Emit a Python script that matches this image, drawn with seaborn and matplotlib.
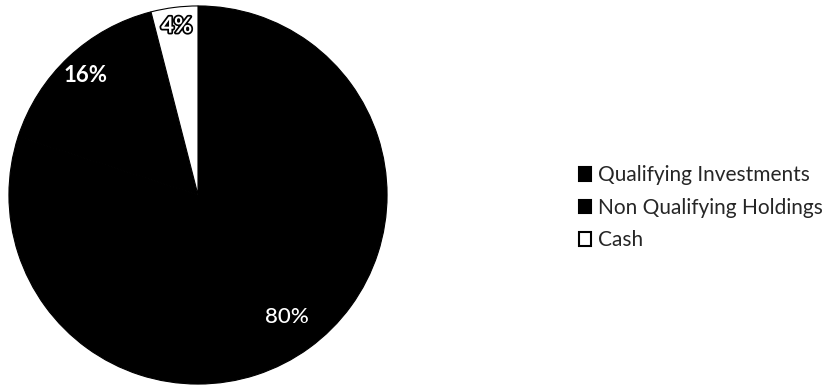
import numpy as np
import matplotlib.pyplot as plt
import matplotlib.patheffects as pe
import seaborn as sns

labels = ["Qualifying Investments", "Non Qualifying Holdings", "Cash"]
shares = [80, 16, 4]
colors = ["#000000", "#000000", "#ffffff"]
label_radius = [0.8, 0.87, 0.9]

sns.set_theme(style="white")
plt.rcParams["font.family"] = ["Lato", "DejaVu Sans"]

fig = plt.figure(figsize=(8.36, 3.9), dpi=100)
ax = fig.add_axes([8 / 836, 5 / 390, 380 / 836, 380 / 390])

wedges, texts, autotexts = ax.pie(
    shares,
    colors=colors,
    startangle=90,
    counterclock=False,
    autopct="%d%%",
    wedgeprops={"edgecolor": "black", "linewidth": 0.8},
    textprops={"fontsize": 16, "color": "white"},
)
ax.set_aspect("equal")
ax.set_xlim(-1.005, 1.005)
ax.set_ylim(-1.005, 1.005)

for w, t, r in zip(wedges, autotexts, label_radius):
    ang = np.deg2rad((w.theta1 + w.theta2) / 2)
    t.set_position((r * np.cos(ang), r * np.sin(ang)))
autotexts[0].set_fontweight("medium")
autotexts[1].set_fontweight("bold")
autotexts[2].set_fontweight("bold")
autotexts[2].set_path_effects([pe.withStroke(linewidth=2.5, foreground="black")])

handles = [plt.Rectangle((0, 0), 1, 1, facecolor=c, edgecolor="black", linewidth=1.5)
           for c in colors]
fig.legend(handles, labels, loc="center left", bbox_to_anchor=(0.670, 0.467),
           frameon=False, fontsize=15, handlelength=0.6, handleheight=0.6,
           handletextpad=0.3, labelspacing=0.6)

fig.savefig("out.png", dpi=100)
